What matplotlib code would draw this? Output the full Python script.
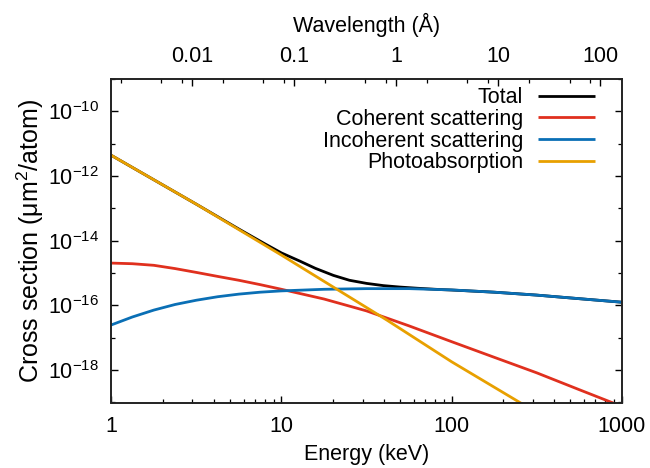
import matplotlib
matplotlib.use('Agg')
import matplotlib.pyplot as plt
from matplotlib.ticker import LogLocator, NullFormatter, FixedLocator, FixedFormatter

plt.rcParams['font.family'] = ['Liberation Sans', 'DejaVu Sans']
plt.rcParams['mathtext.fontset'] = 'custom'
plt.rcParams['mathtext.rm'] = 'Liberation Sans'
plt.rcParams['mathtext.it'] = 'Liberation Sans:italic'
plt.rcParams['mathtext.default'] = 'regular'

# ---- data ----
total_E = [1, 3.16, 5.62, 7.94, 10, 12.85, 15.8, 20.2, 25.1, 31.7, 39.8, 49.8, 63.1, 85.5, 100, 178, 316, 562, 1000]
total_sigma = [4.37e-12, 1.35e-13, 2.3e-14, 8.2e-15, 4.2e-15, 2.34e-15, 1.41e-15, 8.5e-16, 6.0e-16,
               4.8e-16, 4.1e-16, 3.7e-16, 3.4e-16, 3.1e-16, 3.0e-16, 2.57e-16, 2.09e-16, 1.62e-16, 1.26e-16]

coh_E = [1, 1.33, 1.78, 2.37, 3.16, 4.22, 5.62, 7.5, 10, 17.8, 31.6, 56.2, 100, 178, 316, 562, 1000]
coh_sigma = [2.04e-15, 1.95e-15, 1.74e-15, 1.38e-15, 1.05e-15, 7.9e-16, 6.0e-16, 4.4e-16, 3.16e-16,
             1.58e-16, 6.8e-17, 2.34e-17, 7.6e-18, 2.5e-18, 8.3e-19, 2.5e-19, 7.6e-20]

inc_E = [1, 1.33, 1.78, 2.37, 3.16, 4.22, 5.62, 7.5, 10, 17.8, 31.6, 56.2, 100, 178, 316, 562, 1000]
inc_sigma = [2.5e-17, 4.4e-17, 7.2e-17, 1.07e-16, 1.45e-16, 1.86e-16, 2.24e-16, 2.57e-16, 2.82e-16,
             3.16e-16, 3.31e-16, 3.31e-16, 3.02e-16, 2.57e-16, 2.09e-16, 1.62e-16, 1.26e-16]

photo_E = [1, 3.16, 10, 41.6, 100, 252, 400]
photo_sigma = [4.37e-12, 1.35e-13, 3.6e-15, 3.55e-17, 1.82e-18, 1.0e-19, 2.3e-20]

series_labels = ['Total', 'Coherent scattering', 'Incoherent scattering', 'Photoabsorption']
series_colors = ['#000000', '#e0301e', '#0a6fb5', '#e8a000']

x_ticks = [1, 10, 100, 1000]
x_ticklabels = ['1', '10', '100', '1000']
top_ticks = [0.01, 0.1, 1, 10, 100]
top_ticklabels = ['0.01', '0.1', '1', '10', '100']
y_label_ticks = [1e-18, 1e-16, 1e-14, 1e-12, 1e-10]
y_ticklabels = [r'$10^{-18}$', r'$10^{-16}$', r'$10^{-14}$', r'$10^{-12}$', r'$10^{-10}$']
y_minor_ticks = [1e-19, 1e-17, 1e-15, 1e-13, 1e-11, 1e-9]

FS = 15.5
W, H = 650, 468
fig = plt.figure(figsize=(W / 100, H / 100), dpi=100)
L, R, T, B = 111.3, 621.7, 79, 402.5
ax = fig.add_axes([L / W, 1 - B / H, (R - L) / W, (B - T) / H])

lw = 2.0
for Ex, Sy, lab, col in zip([total_E, coh_E, inc_E, photo_E],
                            [total_sigma, coh_sigma, inc_sigma, photo_sigma],
                            series_labels, series_colors):
    ax.plot(Ex, Sy, color=col, lw=lw, label=lab, solid_capstyle='butt', solid_joinstyle='round')

ax.set_xscale('log')
ax.set_yscale('log')
ax.set_xlim(1, 1000)
ax.set_ylim(1e-19, 1e-9)

ax.xaxis.set_major_locator(FixedLocator(x_ticks))
ax.xaxis.set_major_formatter(FixedFormatter(x_ticklabels))
ax.xaxis.set_minor_locator(LogLocator(base=10, subs=range(2, 10)))
ax.xaxis.set_minor_formatter(NullFormatter())

ax.yaxis.set_major_locator(FixedLocator(y_label_ticks))
ax.yaxis.set_major_formatter(FixedFormatter(y_ticklabels))
ax.yaxis.set_minor_locator(FixedLocator(y_minor_ticks))
ax.yaxis.set_minor_formatter(NullFormatter())

ax.tick_params(axis='x', which='both', direction='in', top=False, bottom=True, labelsize=FS, pad=9.5)
ax.tick_params(axis='y', which='both', direction='in', left=True, right=True, labelsize=FS, pad=9)
ax.tick_params(which='major', length=5, width=1.0)
ax.tick_params(which='minor', length=2.8, width=0.9)

for s in ax.spines.values():
    s.set_linewidth(1.2)
    s.set_color('#222222')

ax.set_xlabel('Energy (keV)', fontsize=FS, labelpad=5)
ax.set_ylabel('Cross section (μm$^2$/atom)', fontsize=18, labelpad=1)

# top wavelength axis
ax2 = ax.twiny()
ax2.set_xscale('log')
ax2.set_xlim(10 ** -2.790, 10 ** 2.210)
ax2.xaxis.set_major_locator(FixedLocator(top_ticks))
ax2.xaxis.set_major_formatter(FixedFormatter(top_ticklabels))
ax2.xaxis.set_minor_locator(LogLocator(base=10, subs=[2, 5, 8]))
ax2.xaxis.set_minor_formatter(NullFormatter())
ax2.tick_params(axis='x', which='both', direction='in', labelsize=FS, pad=9)
ax2.tick_params(which='major', length=5, width=1.0)
ax2.tick_params(which='minor', length=2.8, width=0.9)
ax2.set_xlabel('Wavelength (Å)', fontsize=FS, labelpad=10)
for s in ax2.spines.values():
    s.set_linewidth(1.2)
    s.set_color('#222222')

leg = ax.legend(loc='upper right', bbox_to_anchor=(0.9477, 0.9745), frameon=False,
                markerfirst=False, fontsize=FS, handlelength=2.65, handletextpad=0.7,
                labelspacing=0.03, borderpad=0, borderaxespad=0)

fig.savefig('out.png', dpi=100)
